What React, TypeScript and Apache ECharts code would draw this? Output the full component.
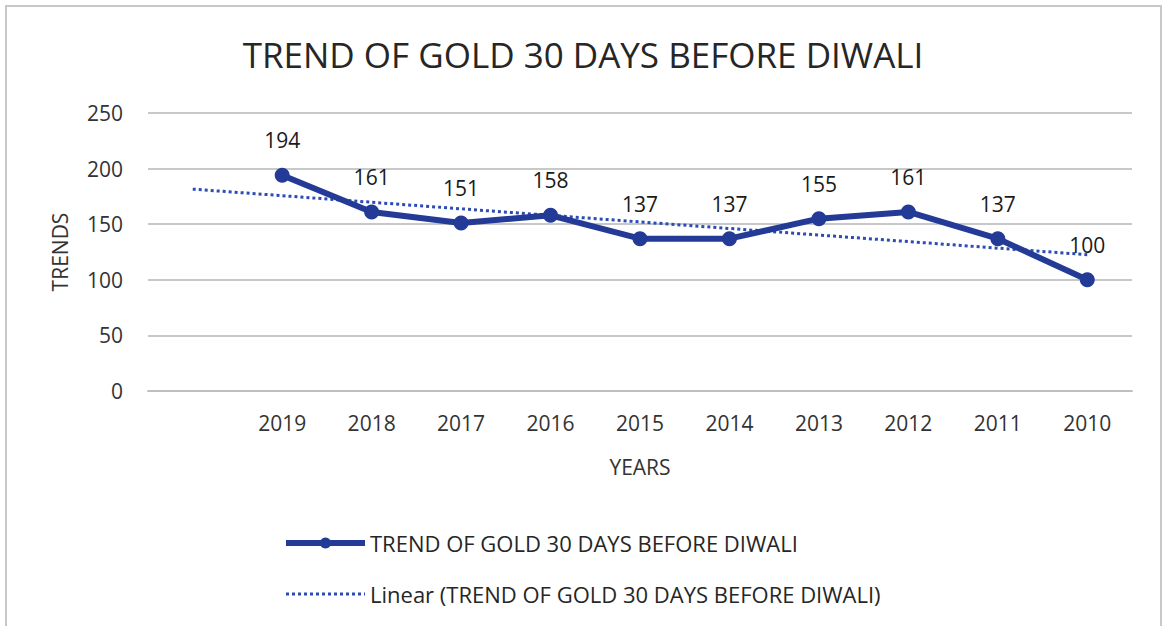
import React, { useEffect, useRef } from "react";
import * as echarts from "echarts";

const TITLE = "TREND OF GOLD 30 DAYS BEFORE DIWALI";
const SERIES_NAME = "TREND OF GOLD 30 DAYS BEFORE DIWALI";
const TREND_NAME = "Linear (TREND OF GOLD 30 DAYS BEFORE DIWALI)";
const categories = ["", "2019", "2018", "2017", "2016", "2015", "2014", "2013", "2012", "2011", "2010"];
const values = [194, 161, 151, 158, 137, 137, 155, 161, 137, 100];
const yTicks = { min: 0, max: 250, interval: 50 };

// least-squares linear trendline of the series (x = 1..n), backward forecast by one period
function trendline(v: number[]): number[] {
  const n = v.length;
  const xs = v.map((_, i) => i + 1);
  const mx = xs.reduce((a, b) => a + b, 0) / n;
  const my = v.reduce((a, b) => a + b, 0) / n;
  let sxy = 0, sxx = 0;
  xs.forEach((x, i) => { sxy += (x - mx) * (v[i] - my); sxx += (x - mx) * (x - mx); });
  const slope = sxy / sxx;
  const out: number[] = [];
  for (let x = 0; x <= n; x++) out.push(+(my + slope * (x - mx)).toFixed(2));
  return out;
}

const FONT = "'Open Sans', 'Noto Sans', sans-serif";
const MAIN = "#233a96";
const TREND = "#2c4bb5";

export default function App() {
  const ref = useRef<HTMLDivElement>(null);
  useEffect(() => {
    document.body.style.margin = "0";
    const chart = echarts.init(ref.current!, null, { renderer: "svg" });
    const trend = trendline(values);
    chart.setOption({
      animation: false,
      backgroundColor: "#ffffff",
      textStyle: { fontFamily: FONT },
      title: {
        text: TITLE,
        left: 578,
        textAlign: "center",
        top: 32,
        textStyle: { fontFamily: FONT, fontSize: 35, fontWeight: "normal", color: "#262626" },
      },
      graphic: [
        {
          type: "rect",
          shape: { x: 6, y: 6, width: 1155, height: 640 },
          style: { fill: "none", stroke: "#c8c8c8", lineWidth: 2 },
          silent: true,
        },
      ],
      legend: {
        orient: "vertical",
        left: 278,
        top: 527,
        itemWidth: 79,
        itemHeight: 14,
        itemGap: 29,
        textStyle: { fontFamily: FONT, fontSize: 22, color: "#262626" },
        data: [
          { name: SERIES_NAME, lineStyle: { width: 6, color: MAIN }, itemStyle: { color: MAIN } },
          {
            name: TREND_NAME,
            lineStyle: { width: 3, color: TREND, type: [3, 3] },
            itemStyle: { color: "rgba(0,0,0,0)", borderWidth: 0 },
          },
        ],
      },
      grid: { left: 148, right: 32, top: 113, bottom: 235 },
      xAxis: {
        type: "category",
        data: categories,
        boundaryGap: true,
        axisLine: { lineStyle: { color: "#bfbfbf", width: 2 } },
        axisTick: { show: false },
        axisLabel: { fontFamily: FONT, fontSize: 21, color: "#333333", margin: 21 },
        name: "YEARS",
        nameLocation: "middle",
        nameGap: 65,
        nameTextStyle: { fontFamily: FONT, fontSize: 21, color: "#333333" },
      },
      yAxis: {
        type: "value",
        min: yTicks.min,
        max: yTicks.max,
        interval: yTicks.interval,
        axisLine: { show: false },
        axisTick: { show: false },
        splitLine: { lineStyle: { color: "#c8c8c8", width: 2 } },
        axisLabel: { fontFamily: FONT, fontSize: 21, color: "#333333", margin: 25 },
        name: "TRENDS",
        nameLocation: "middle",
        nameGap: 78,
        nameRotate: 90,
        nameTextStyle: { fontFamily: FONT, fontSize: 21, color: "#333333" },
      },
      series: [
        {
          name: SERIES_NAME,
          type: "line",
          data: ["-", ...values],
          color: MAIN,
          lineStyle: { width: 6, color: MAIN },
          symbol: "circle",
          symbolSize: 15,
          itemStyle: { color: MAIN },
          label: {
            show: true,
            position: "top",
            distance: 17,
            fontFamily: FONT,
            fontSize: 21,
            color: "#1a1a1a",
          },
          z: 3,
        },
        {
          name: TREND_NAME,
          type: "line",
          data: trend,
          color: TREND,
          symbol: "none",
          lineStyle: { width: 3, type: [3, 3], color: TREND },
          z: 2,
        },
      ],
    });
    return () => chart.dispose();
  }, []);
  return (
    <div
      ref={ref}
      style={{ position: "absolute", left: 0, top: 0, width: 1164, height: 626 }}
    />
  );
}
